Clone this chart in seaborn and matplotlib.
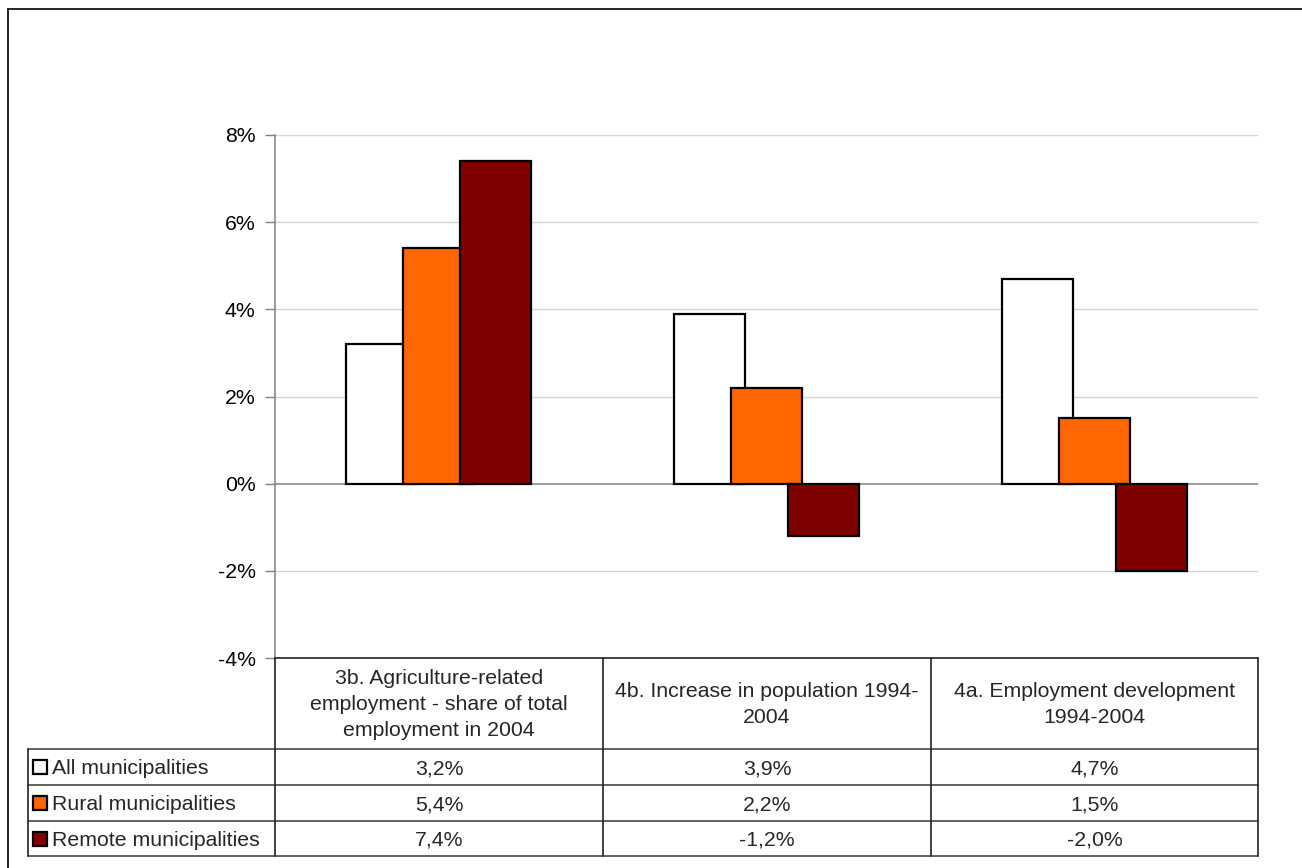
import matplotlib
matplotlib.use("Agg")
import matplotlib.pyplot as plt
import seaborn as sns
import pandas as pd
from matplotlib.lines import Line2D
from matplotlib.patches import Rectangle

# Indicator categories (x axis / table header)
categories = [
    "3b. Agriculture-related\nemployment - share of total\nemployment in 2004",
    "4b. Increase in population 1994-\n2004",
    "4a. Employment development\n1994-2004",
]
series = ["All municipalities", "Rural municipalities", "Remote municipalities"]
all_vals = [3.2, 3.9, 4.7]
rural_vals = [5.4, 2.2, 1.5]
remote_vals = [7.4, -1.2, -2.0]
colors = ["#FFFFFF", "#FF6600", "#800000"]
yticks = [-4, -2, 0, 2, 4, 6, 8]

values = [all_vals, rural_vals, remote_vals]
df = pd.DataFrame({
    "category": [c for _ in series for c in categories],
    "series": [s for s in series for _ in categories],
    "value": [v for vals in values for v in vals],
})

sns.set_theme(style="white")
plt.rcParams["font.family"] = ["Liberation Sans", "DejaVu Sans"]
FS = 15.3

W, H = 1302, 868
fig = plt.figure(figsize=(W / 100, H / 100), dpi=100)


def fx(px):
    return px / W


def fy(py):
    return 1 - py / H


# plot area geometry (pixels)
PL, PR, PT, PB = 275, 1258, 135, 658
ax = fig.add_axes([fx(PL), fy(PB), fx(PR) - fx(PL), fy(PT) - fy(PB)])

sns.barplot(
    data=df, x="category", y="value", hue="series",
    order=categories, hue_order=series, palette=colors,
    width=0.522, edgecolor="black", linewidth=1.6, saturation=1,
    legend=False, ax=ax, zorder=3,
)
# overlapping bars within each group
for p in ax.patches:
    w = p.get_width()
    c = p.get_x() + w / 2
    nw = w * 1.244
    p.set_x(c - nw / 2)
    p.set_width(nw)

ax.set_xlim(-0.5, 2.5)
ax.set_ylim(-4, 8)
for v in yticks:
    if v == 0:
        ax.axhline(v, color="#808080", lw=1.1, zorder=2)
    elif v > -4:
        ax.axhline(v, color="#d4d4d4", lw=1.0, zorder=1)
ax.set_yticks(yticks)
ax.set_yticklabels([f"{v}%" for v in yticks], fontsize=FS, color="black")
ax.tick_params(axis="y", direction="out", length=7, width=1, color="#808080", pad=7, left=True)
ax.set_xticks([])
ax.set_xlabel("")
ax.set_ylabel("")
for side in ["top", "right", "bottom"]:
    ax.spines[side].set_visible(False)
ax.spines["left"].set_color("#808080")
ax.spines["left"].set_linewidth(1.1)
ax.patch.set_alpha(0)


def hline(x0, x1, y, color="#333333", lw=1.2):
    fig.add_artist(Line2D([fx(x0), fx(x1)], [fy(y), fy(y)], transform=fig.transFigure, color=color, lw=lw))


def vline(x, y0, y1, color="#333333", lw=1.2):
    fig.add_artist(Line2D([fx(x), fx(x)], [fy(y0), fy(y1)], transform=fig.transFigure, color=color, lw=lw))


# chart frame
hline(8, W, 9, color="black", lw=1.2)
vline(8, 9, H, color="black", lw=1.2)

# data table
TL = 28
cols = [PL, 603, 931, PR]
rows = [PB, 749, 785, 821, 856]
hline(PL, PR, PB, color="#222222")
for y in rows[1:]:
    hline(TL, PR, y, color="#555555", lw=1.3)
for x in cols:
    vline(x, PB, rows[-1], color="#222222")
vline(TL, rows[1], rows[-1], color="#222222")

for i, cat in enumerate(categories):
    cx = (cols[i] + cols[i + 1]) / 2
    fig.text(fx(cx), fy((rows[0] + rows[1]) / 2 + 1), cat, ha="center", va="center",
             fontsize=FS, linespacing=1.5)

for r, (name, vals, col) in enumerate(zip(series, values, colors)):
    cy = (rows[r + 1] + rows[r + 2]) / 2
    fig.add_artist(Rectangle((fx(33), fy(cy + 7)), fx(14) - fx(0), fy(0) - fy(14),
                             transform=fig.transFigure, facecolor=col, edgecolor="black", lw=1.6))
    fig.text(fx(52), fy(cy + 2), name, ha="left", va="center", fontsize=FS)
    for i, v in enumerate(vals):
        cx = (cols[i] + cols[i + 1]) / 2
        fig.text(fx(cx), fy(cy + 2), f"{v:.1f}".replace(".", ",") + "%",
                 ha="center", va="center", fontsize=FS)

fig.savefig("out.png", dpi=100, facecolor="white")
